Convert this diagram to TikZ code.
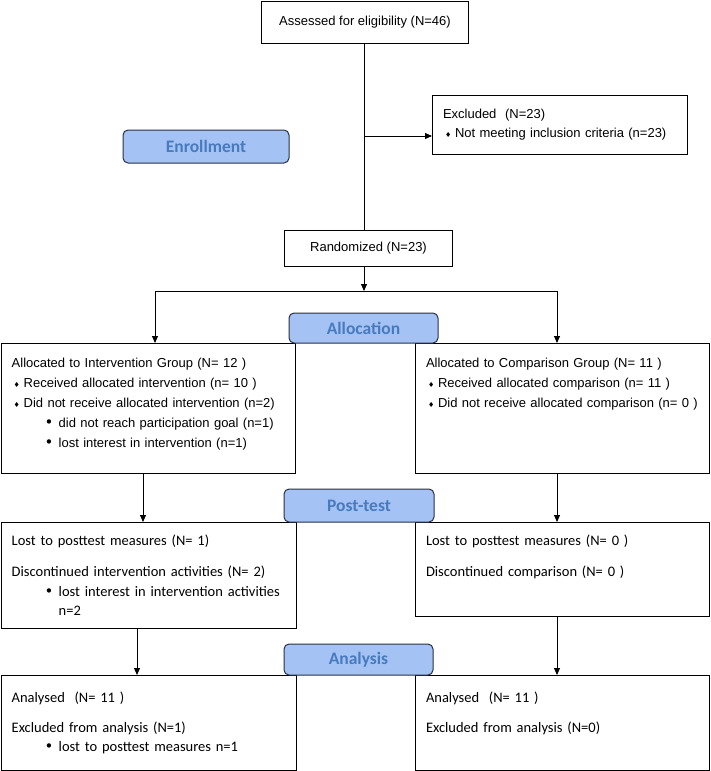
\documentclass[tikz,border=0pt]{standalone}
\usepackage{fontspec}
\setmainfont{Liberation Sans}
\newfontfamily\calibri{Carlito}
\newfontfamily\symfont{DejaVu Sans}
\usetikzlibrary{arrows.meta}

\definecolor{stagefill}{RGB}{164,194,244}
\definecolor{stagetext}{RGB}{72,122,190}
\definecolor{stageline}{RGB}{40,48,66}

\tikzset{
  box/.style={draw,line width=1pt,anchor=north west,align=left,
    inner xsep=10.5pt,inner ysep=0pt,font=\fontsize{13}{20}\selectfont},
  single/.style={draw,line width=1pt,anchor=north west,inner sep=0pt,
    font=\fontsize{13}{16}\selectfont},
  stage/.style={draw=stageline,line width=1pt,fill=stagefill,rounded corners=5pt,
    inner sep=0pt,text=stagetext,font=\calibri\bfseries\fontsize{17.5}{20}\selectfont},
  arr/.style={-{Triangle[length=7pt,width=6pt]},line width=.9pt},
  con/.style={line width=.9pt}
}
\newcommand\diabul{\makebox[12pt][l]{\hspace{2pt}\symfont\fontsize{7}{7}\selectfont ♦}}
\newcommand\subbul{\makebox[47pt][l]{\hspace{33pt}{\symfont\fontsize{15}{15}\selectfont •}}}

\begin{document}
\begin{tikzpicture}[x=1pt,y=-1pt]
\useasboundingbox (0,0) rectangle (710,771);
% boxes
\node[single,minimum width=207,minimum height=42] (assess) at (261,0.6) {Assessed for eligibility (N=46)};
\node[box,font=\fontsize{13}{19}\selectfont,text width=234,text height=22.5,text depth=36.5] (excl) at (432,95)
  {Excluded\ \ (N=23)\\\diabul Not meeting inclusion criteria (n=23)};
\node[single,minimum width=168,minimum height=36] (rand) at (284,230) {Randomized (N=23)};
\node[box,text width=273,text height=23.5,text depth=106.5] (allocL) at (0.7,343)
  {Allocated to Intervention Group (N= 12 )\\
   \diabul Received allocated intervention (n= 10 )\\
   \diabul Did not receive allocated intervention (n=2)\\
   \subbul did not reach participation goal (n=1)\\
   \subbul lost interest in intervention (n=1)};
\node[box,text width=273,text height=23.5,text depth=106.5] (allocR) at (415,343)
  {Allocated to Comparison Group (N= 11 )\\
   \diabul Received allocated comparison (n= 11 )\\
   \diabul Did not receive allocated comparison (n= 0 )};
\node[box,font=\calibri\fontsize{14.5}{19.5}\selectfont,text width=274,text height=23,text depth=83] (postL) at (0.7,522)
  {Lost to posttest measures (N= 1)\\[11.5pt]
   Discontinued intervention activities (N= 2)\\
   \subbul lost interest in intervention activities\\
   \hspace*{47pt}n=2};
\node[box,font=\calibri\fontsize{14.5}{19.5}\selectfont,text width=273,text height=23,text depth=71] (postR) at (415,522)
  {Lost to posttest measures (N= 0 )\\[11.5pt]
   Discontinued comparison (N= 0 )};
\node[box,font=\calibri\fontsize{14.5}{19}\selectfont,text width=274,text height=27,text depth=68] (anaL) at (0.7,675)
  {Analysed\ \ (N= 11 )\\[11pt]
   Excluded from analysis (N=1)\\
   \subbul lost to posttest measures n=1};
\node[box,font=\calibri\fontsize{14.5}{19}\selectfont,text width=273,text height=27,text depth=68] (anaR) at (415,675)
  {Analysed\ \ (N= 11 )\\[11pt]
   Excluded from analysis (N=0)};
% stages
\node[stage,minimum width=166,minimum height=33] (enrol) at (206,146.5) {Enrollment};
\node[stage,minimum width=149,minimum height=30] (alloc) at (363.5,328) {Allocation};
\node[stage,minimum width=150,minimum height=33] (post) at (359,505.5) {Post-test};
\node[stage,minimum width=149,minimum height=31] (ana) at (358.5,659.5) {Analysis};
% connectors
\coordinate (exjoin) at (364,136);
\coordinate (split) at (364,291);
\coordinate (splitL) at (155,291);
\coordinate (splitR) at (557,291);
\coordinate (leftA) at (143,0);
\coordinate (leftB) at (137,0);
\draw[con] (exjoin |- assess.south) -- (exjoin |- rand.north);
\draw[arr] (exjoin) -- (exjoin -| excl.west);
\draw[arr] (split |- rand.south) -- (split);
\draw[con] (splitL) -- (splitR);
\draw[arr] (splitL) -- (splitL |- allocL.north);
\draw[arr] (splitR) -- (splitR |- allocR.north);
\draw[arr] (leftA |- allocL.south) -- (leftA |- postL.north);
\draw[arr] (splitR |- allocR.south) -- (splitR |- postR.north);
\draw[arr] (leftB |- postL.south) -- (leftB |- anaL.north);
\draw[arr] (splitR |- postR.south) -- (splitR |- anaR.north);
\end{tikzpicture}
\end{document}
